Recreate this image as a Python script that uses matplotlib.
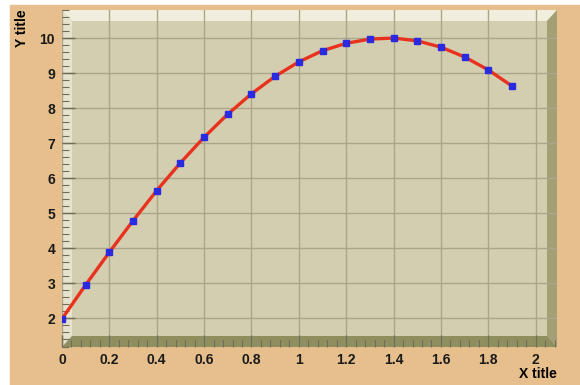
import matplotlib
matplotlib.use("Agg")
import matplotlib.pyplot as plt
from matplotlib.patches import Polygon, Rectangle
from matplotlib.ticker import MultipleLocator

# graph points
x_vals = [0.0, 0.1, 0.2, 0.3, 0.4, 0.5, 0.6, 0.7, 0.8, 0.9,
          1.0, 1.1, 1.2, 1.3, 1.4, 1.5, 1.6, 1.7, 1.8, 1.9]
y_vals = [1.99, 2.96, 3.89, 4.79, 5.65, 6.44, 7.17, 7.83, 8.41, 8.91,
          9.32, 9.64, 9.85, 9.97, 10.0, 9.92, 9.74, 9.46, 9.09, 8.63]

x_ticks = [0, 0.2, 0.4, 0.6, 0.8, 1.0, 1.2, 1.4, 1.6, 1.8, 2.0]
x_labels = ["0", "0.2", "0.4", "0.6", "0.8", "1", "1.2", "1.4", "1.6", "1.8", "2"]
y_ticks = [2, 3, 4, 5, 6, 7, 8, 9, 10]

PANEL = "#E6BF8C"
FRAME = "#D4CEB0"
GRID = "#A9A68C"

plt.rcParams["font.family"] = ["Liberation Sans", "DejaVu Sans"]

fig = plt.figure(figsize=(5.8, 3.85), dpi=100)
fig.patches.append(Rectangle((10 / 580, 0), 1, 1 - 5 / 385, transform=fig.transFigure,
                             color=PANEL, zorder=-10))

ax = fig.add_axes([62 / 580, 38 / 385, 495 / 580, 337 / 385])
ax.set_facecolor(FRAME)
ax.set_xlim(0, 2.09)
ax.set_ylim(1.186, 10.8)

# 3D bevel around the frame
bw, bh = 10 / 495, 11 / 337
bevel = [
    ([(0, 1), (1, 1), (1 - bw, 1 - bh), (bw, 1 - bh)], "#F1EEDD"),
    ([(0, 0), (0, 1), (bw, 1 - bh), (bw, bh)], "#E6E2CE"),
    ([(1, 0), (1, 1), (1 - bw, 1 - bh), (1 - bw, bh)], "#A3A075"),
    ([(0, 0), (1, 0), (1 - bw, bh), (bw, bh)], "#8F8E5E"),
]
for pts, col in bevel:
    ax.add_patch(Polygon(pts, closed=True, transform=ax.transAxes,
                         facecolor=col, edgecolor="none", zorder=0.5))

ax.xaxis.set_minor_locator(MultipleLocator(0.04))
ax.yaxis.set_minor_locator(MultipleLocator(0.2))
ax.grid(True, which="major", color=GRID, lw=1.0, zorder=0.6)
ax.tick_params(which="both", direction="in", colors="#6F6D55", labelcolor="#1A1A1A",
               top=False, right=False)
ax.tick_params(which="major", length=9, width=1)
ax.tick_params(which="minor", length=5, width=0.8)
ax.tick_params(axis="x", pad=4)
ax.tick_params(axis="y", pad=5)
ax.set_xticks(x_ticks)
ax.set_xticklabels(x_labels, fontsize=10, fontweight="bold")
ax.set_yticks(y_ticks)
ax.set_yticklabels([str(v) for v in y_ticks], fontsize=10, fontweight="bold")
for s in ax.spines.values():
    s.set_visible(False)

ax.plot(x_vals, y_vals, color="#E8321E", lw=2.4, zorder=3)
ax.plot(x_vals, y_vals, ls="none", marker="s", ms=5, mfc="#2A2AE0", mec="#2A2AE0", zorder=4)

fig.text(557 / 580, 1 - 374 / 385, "X title", ha="right", va="center",
         fontsize=10, fontweight="bold")
fig.text(22 / 580, 1 - 9 / 385, "Y title", ha="center", va="top", rotation=90,
         fontsize=10, fontweight="bold")

fig.savefig("out.png", dpi=100)
